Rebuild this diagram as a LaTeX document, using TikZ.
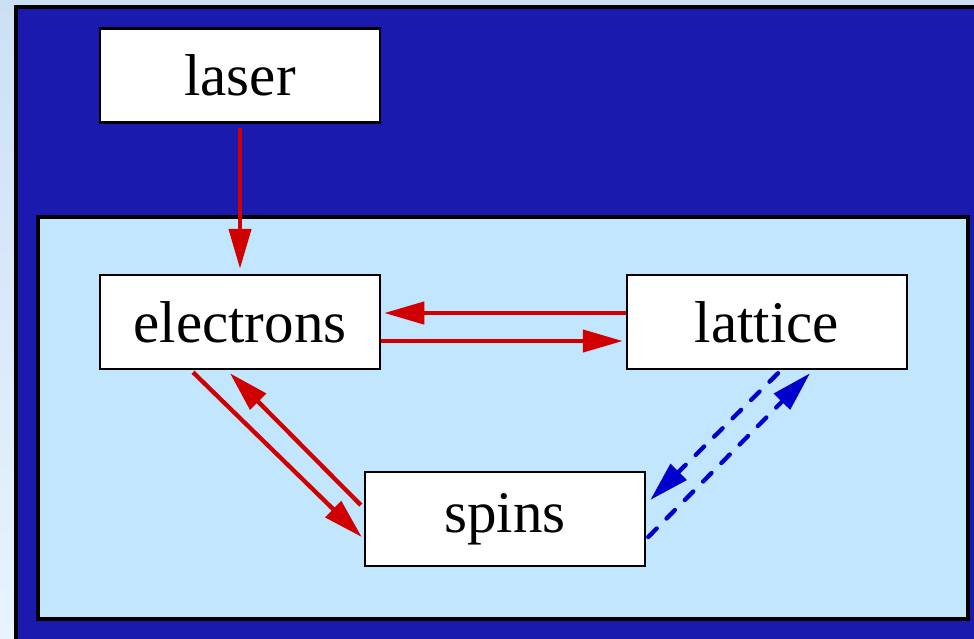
\documentclass[tikz,border=0pt]{standalone}
\usepackage{fontspec}
\setmainfont{Liberation Serif}
\usetikzlibrary{arrows.meta}
\definecolor{darkbg}{HTML}{1B1AAE}
\definecolor{innerbg}{HTML}{C2E6FE}
\definecolor{arrred}{HTML}{D00000}
\definecolor{arrblue}{HTML}{0000CC}
\definecolor{stripTop}{HTML}{CCE0F5}
\definecolor{stripBot}{HTML}{E8F3FE}
\tikzset{
  boxnode/.style={draw=black, fill=white, line width=2.5pt, minimum width=280pt, minimum height=94pt, inner sep=0pt, font=\fontsize{59}{61}\selectfont},
  redarrow/.style={draw=arrred, line width=4.3pt, -{Triangle[length=40pt,width=22pt]}},
  bluearrow/.style={draw=arrblue, line width=4.3pt, dash pattern=on 12pt off 14pt, line cap=round, -{Triangle[length=40pt,width=22pt]}},
}
\begin{document}
\begin{tikzpicture}[x=1pt,y=-1pt]
\useasboundingbox (0,0) rectangle (974,638);
\clip (0,0) rectangle (974,638);
\shade[top color=stripTop, bottom color=stripBot] (0,0) rectangle (974,638);
\draw[line width=4pt, fill=darkbg] (16,7) rectangle (990,660);
\draw[line width=4pt, fill=innerbg] (38,217) rectangle (968,619);
\node[boxnode] (laser) at (240,75.5) {laser};
\node[boxnode] (electrons) at (240,322) {electrons};
\node[boxnode] (lattice) at (767,322) {lattice};
\node[boxnode] (spins) at (505,519) {spins};
\draw[redarrow, shorten <=4pt, shorten >=5pt] (laser.south) -- (electrons.north);
\draw[redarrow, shorten >=3pt] ([yshift=9pt]lattice.west) -- ([yshift=9pt]electrons.east);
\draw[redarrow, shorten >=3pt] ([yshift=-19pt]electrons.east) -- ([yshift=-19pt]lattice.west);
\draw[redarrow] ([xshift=-47pt,yshift=-2pt]electrons.south) -- ([xshift=-2pt,yshift=-18pt]spins.west);
\draw[redarrow] ([xshift=-3pt,yshift=14pt]spins.west) -- ([xshift=-10pt,yshift=-3pt]electrons.south);
\draw[bluearrow] ([xshift=11pt,yshift=-3pt]lattice.south) -- ([xshift=4pt,yshift=19pt]spins.east);
\draw[bluearrow] ([xshift=2pt,yshift=-18pt]spins.east) -- ([xshift=43pt,yshift=-3pt]lattice.south);
\end{tikzpicture}
\end{document}
